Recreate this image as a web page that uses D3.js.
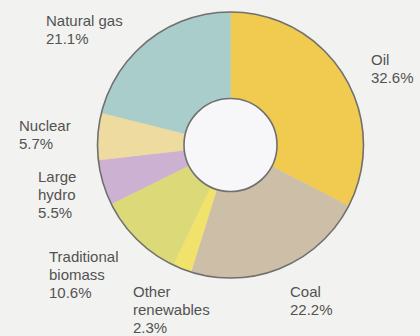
<!DOCTYPE html>
<html>
<head>
<meta charset="utf-8">
<script src="https://cdn.jsdelivr.net/npm/d3@7"></script>
<style>
  html, body { margin: 0; padding: 0; background: #f2f2f0; }
  svg { display: block; }
  text { font-family: "Liberation Sans", Arial, sans-serif; font-size: 15px; fill: #525252; }
</style>
</head>
<body>
<svg id="chart" width="420" height="336"></svg>
<script>
const categories = ["Oil", "Coal", "Other renewables", "Traditional biomass", "Large hydro", "Nuclear", "Natural gas"];
const values = [32.6, 22.2, 2.3, 10.6, 5.5, 5.7, 21.1];
const labelLines = [
  ["Oil", "32.6%"],
  ["Coal", "22.2%"],
  ["Other", "renewables", "2.3%"],
  ["Traditional", "biomass", "10.6%"],
  ["Large", "hydro", "5.5%"],
  ["Nuclear", "5.7%"],
  ["Natural gas", "21.1%"]
];
const colors = ["#f0cb50", "#cdbea8", "#f1e26c", "#dcd978", "#cdb1d3", "#eedb9f", "#a9cdca"];

const W = 420, H = 336;
const cx = 230.5, cy = 145, rOuter = 133, rInner = 46.5;
// label anchor positions (x, first baseline)
const labelPos = [[371, 65], [290, 297], [133, 297], [49, 262], [38, 182], [19, 131], [46, 26]];
const lineH = 18;

const svg = d3.select("#chart");
svg.append("rect").attr("width", W).attr("height", H).attr("fill", "#f2f2f0");

const pie = d3.pie().sort(null).value(d => d.v);
const data = categories.map((c, i) => ({ c, v: values[i], i }));
const arcs = pie(data);
const arc = d3.arc().innerRadius(rInner).outerRadius(rOuter);

const g = svg.append("g").attr("transform", `translate(${cx},${cy})`);
g.selectAll("path.slice").data(arcs).join("path")
  .attr("class", "slice")
  .attr("d", arc)
  .attr("fill", d => colors[d.data.i])
  .attr("stroke", d => colors[d.data.i])
  .attr("stroke-width", 0.5);

g.append("circle").attr("r", rInner).attr("fill", "#f7f6f8")
  .attr("stroke", "#707070").attr("stroke-width", 1.6);
g.append("circle").attr("r", rOuter).attr("fill", "none")
  .attr("stroke", "#707070").attr("stroke-width", 1.6);

const labels = svg.selectAll("text.lbl").data(data).join("text")
  .attr("class", "lbl")
  .attr("x", d => labelPos[d.i][0])
  .attr("y", d => labelPos[d.i][1]);
labels.each(function(d) {
  const t = d3.select(this);
  labelLines[d.i].forEach((line, k) => {
    t.append("tspan").attr("x", labelPos[d.i][0]).attr("dy", k === 0 ? 0 : lineH).text(line);
  });
});
</script>
</body>
</html>
